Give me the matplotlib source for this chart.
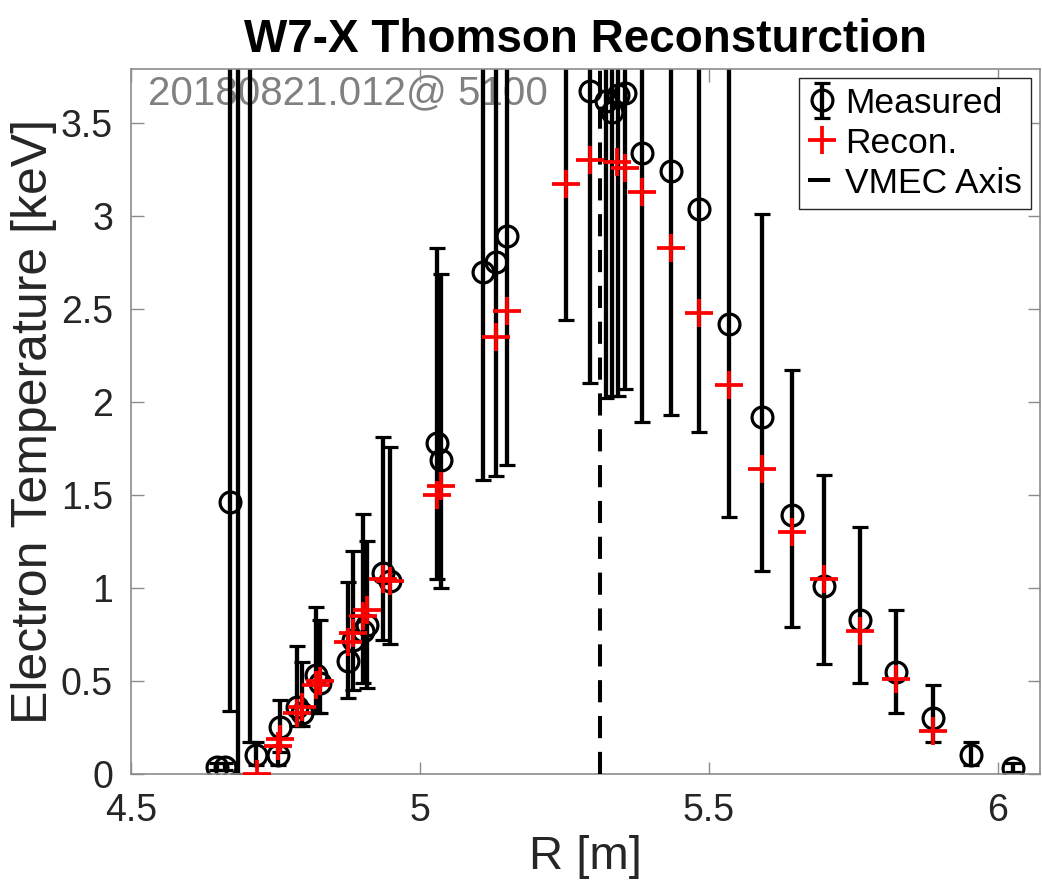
import numpy as np
import matplotlib
matplotlib.use("Agg")
import matplotlib.pyplot as plt

plt.rcParams["font.family"] = ["Liberation Sans", "DejaVu Sans"]

# measured Thomson points: R [m], Te [keV], lower / upper bound of error bar
r_meas = [4.649, 4.663, 4.671, 4.685, 4.706, 4.716, 4.754, 4.758, 4.787, 4.796,
          4.820, 4.827, 4.875, 4.884, 4.901, 4.908, 4.936, 4.948, 5.029, 5.036,
          5.109, 5.131, 5.150, 5.253, 5.294, 5.322, 5.332, 5.343, 5.355, 5.384,
          5.434, 5.483, 5.535, 5.592, 5.644, 5.699, 5.761, 5.824, 5.888, 5.953,
          6.026]
te_meas = [0.04, 0.04, 1.46, 4.50, 4.30, 0.10, 0.10, 0.25, 0.36, 0.33,
           0.53, 0.49, 0.61, 0.72, 0.77, 0.80, 1.08, 1.04, 1.78, 1.69,
           2.70, 2.75, 2.89, 4.20, 3.67, 3.62, 3.56, 3.65, 3.66, 3.34,
           3.24, 3.04, 2.42, 1.92, 1.39, 1.01, 0.83, 0.55, 0.30, 0.10,
           0.03]
te_low = [0.02, 0.02, 0.34, 0.00, 0.17, 0.05, 0.05, 0.12, 0.26, 0.26,
          0.33, 0.33, 0.41, 0.45, 0.49, 0.46, 0.72, 0.70, 1.05, 1.00,
          1.58, 1.60, 1.66, 2.44, 2.10, 2.02, 2.03, 2.03, 2.07, 1.89,
          1.93, 1.84, 1.38, 1.09, 0.79, 0.59, 0.49, 0.33, 0.17, 0.05,
          0.01]
te_high = [0.06, 0.06, 6.00, 9.00, 9.00, 0.17, 0.15, 0.40, 0.69, 0.60,
           0.90, 0.83, 1.03, 1.20, 1.40, 1.25, 1.81, 1.76, 2.83, 2.69,
           6.00, 6.00, 6.00, 9.00, 6.00, 6.00, 6.00, 6.00, 6.00, 6.00,
           6.00, 6.00, 6.00, 3.01, 2.17, 1.61, 1.33, 0.88, 0.48, 0.17,
           0.06]

# reconstructed profile
r_recon = [4.718, 4.754, 4.758, 4.787, 4.796, 4.820, 4.827, 4.875, 4.884, 4.901,
           4.908, 4.936, 4.948, 5.029, 5.036, 5.131, 5.150, 5.253, 5.294, 5.341,
           5.355, 5.384, 5.434, 5.483, 5.535, 5.592, 5.644, 5.699, 5.761, 5.824,
           5.888]
te_recon = [0.00, 0.15, 0.19, 0.33, 0.36, 0.48, 0.50, 0.71, 0.76, 0.85,
            0.88, 1.05, 1.04, 1.50, 1.55, 2.35, 2.49, 3.17, 3.30, 3.29,
            3.26, 3.13, 2.83, 2.48, 2.09, 1.64, 1.30, 1.05, 0.77, 0.51,
            0.23]

vmec_axis = 5.311

te_meas = np.array(te_meas)
yerr = [te_meas - np.array(te_low), np.array(te_high) - te_meas]

fig = plt.figure(figsize=(10.42, 8.88), dpi=100)
ax = fig.add_axes([131 / 1042, 114 / 888, 909 / 1042, 705 / 888])

h_meas = ax.errorbar(r_meas, te_meas, yerr=yerr, fmt="o", color="black",
                     markerfacecolor="none", markersize=15, markeredgewidth=2.3,
                     elinewidth=3.1, capsize=5.5, capthick=2.4, label="Measured",
                     zorder=2)
h_rec, = ax.plot(r_recon, te_recon, "+", color="red", markersize=20,
                 markeredgewidth=2.7, label="Recon.", zorder=4)
h_ax, = ax.plot([vmec_axis, vmec_axis], [0, 3.8], color="black", linewidth=2.9,
                linestyle=(0, (5.5, 3.4)), label="VMEC Axis", zorder=3)

ax.set_xlim(4.5, 6.073)
ax.set_ylim(0, 3.79)
ax.set_xticks([4.5, 5, 5.5, 6])
ax.set_xticklabels(["4.5", "5", "5.5", "6"])
ax.set_yticks([0, 0.5, 1, 1.5, 2, 2.5, 3, 3.5])
ax.set_yticklabels(["0", "0.5", "1", "1.5", "2", "2.5", "3", "3.5"])

for s in ax.spines.values():
    s.set_color("#8c8c8c")
    s.set_linewidth(1.2)
ax.tick_params(direction="in", length=9, width=1.0, color="#8c8c8c",
               labelcolor="#262626", labelsize=27, top=True, right=True)
ax.tick_params(axis="x", pad=14)
ax.tick_params(axis="y", pad=13)

ax.set_xlabel("R [m]", fontsize=34, color="#262626", labelpad=4)
ax.set_ylabel("Electron Temperature [keV]", fontsize=36, color="#262626", labelpad=3)
ax.set_title("W7-X Thomson Reconsturction", fontsize=33, fontweight="bold", pad=12)

ax.text(0.019, 0.992, "20180821.012@ 5100", transform=ax.transAxes,
        fontsize=29, color="#808080", va="top", ha="left", zorder=1)

leg = ax.legend([h_meas, h_rec, h_ax], ["Measured", "Recon.", "VMEC Axis"],
                loc="upper right", fontsize=25.5, handlelength=0.8,
                handletextpad=0.25, borderpad=0.25, labelspacing=0.2,
                borderaxespad=0.25, fancybox=False, framealpha=1,
                edgecolor="#262626")
leg.get_frame().set_linewidth(1.0)

fig.savefig("out.png", dpi=100)
